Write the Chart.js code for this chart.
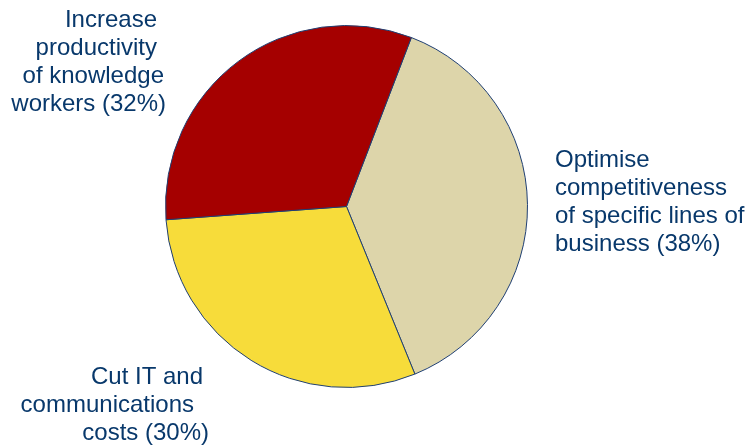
<!DOCTYPE html>
<html>
<head>
<meta charset="utf-8">
<script src="https://cdn.jsdelivr.net/npm/chart.js@4"></script>
<style>
  html, body { margin: 0; padding: 0; background: #ffffff; }
  #wrap { width: 747px; height: 448px; position: relative; }
</style>
</head>
<body>
<div id="wrap"><canvas id="pie"></canvas></div>
<script>
// slices, clockwise from the top-right boundary
const categories = [
    ["Optimise", "competitiveness", "of specific lines of", "business (38%)"],
    ["Cut IT and", "communications", "costs (30%)"],
    ["Increase", "productivity", "of knowledge", "workers (32%)"]
];
const shares = [38, 30, 32];
const sliceColours = ["#DDD5AA", "#F7DC3A", "#A50000"];

// where each label block sits: anchor x, first line y, alignment, per-line nudge
const labelSpots = [
    { x: 555, y: 160, align: "left",  nudge: [0, 0, 0, 0] },
    { x: 209, y: 377, align: "right", nudge: [-6, -15, 0] },
    { x: 166, y: 20,  align: "right", nudge: [-9, -9, -2, 0] }
];

//-----------------------------------------------------------------------------
// draws the text blocks next to the pie
//-----------------------------------------------------------------------------
const outsideLabels = {
    id: "outsideLabels",
    afterDraw(chart) {
        const ctx = chart.ctx;
        ctx.save();
        ctx.fillStyle = "#08386B";
        ctx.font = "24px 'Liberation Sans', Arial, sans-serif";
        ctx.textBaseline = "middle";
        categories.forEach((lines, i) => {
            const spot = labelSpots[i];
            ctx.textAlign = spot.align;
            lines.forEach((line, n) => {
                ctx.fillText(line, spot.x + spot.nudge[n], spot.y + n * 28);
            });
        });
        ctx.restore();
    }
};

const ctx = document.getElementById("pie").getContext("2d");
new Chart(ctx, {
    type: "pie",
    data: {
        labels: categories.map(c => c.join(" ")),
        datasets: [{
            data: shares,
            backgroundColor: sliceColours,
            borderColor: "#1F3F73",
            borderWidth: 1
        }]
    },
    options: {
        responsive: true,
        maintainAspectRatio: false,
        animation: false,
        rotation: 21,
        layout: {
            padding: { left: 165, right: 219, top: 25, bottom: 60 }
        },
        plugins: {
            legend: { display: false },
            tooltip: { enabled: false }
        }
    },
    plugins: [outsideLabels]
});
</script>
</body>
</html>
